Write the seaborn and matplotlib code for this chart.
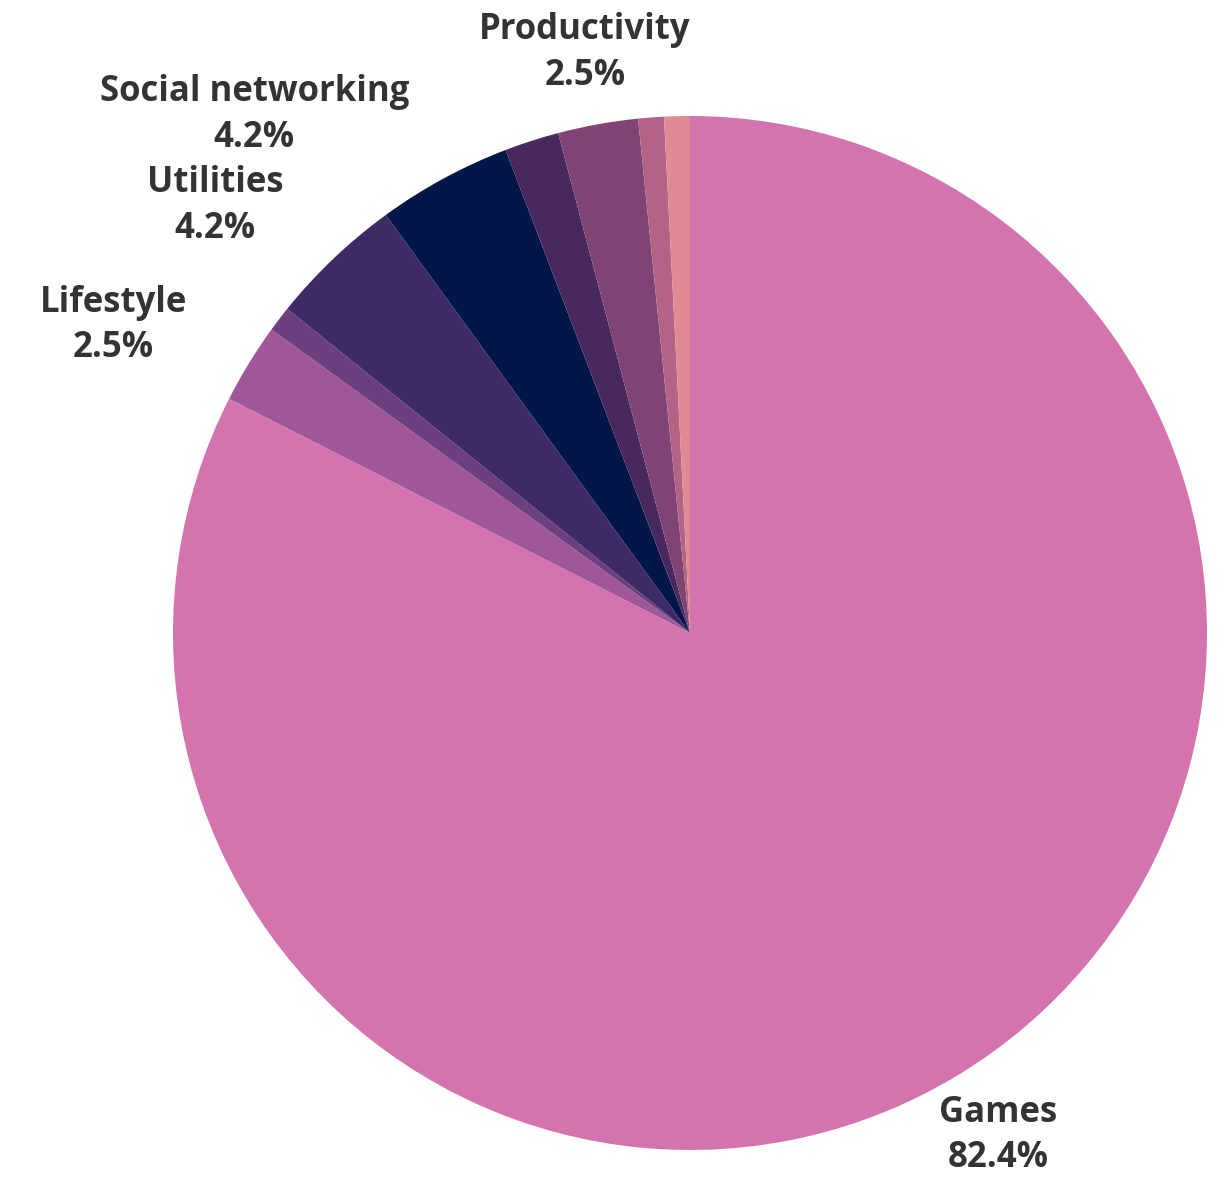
import matplotlib
matplotlib.use("Agg")
import matplotlib.pyplot as plt
import seaborn as sns
import numpy as np

categories = ["Games", "Lifestyle", "Entertainment", "Utilities", "Social networking",
              "Education", "Productivity", "Music", "Other"]
shares = [82.4, 2.5, 0.8, 4.2, 4.2, 1.7, 2.5, 0.8, 0.8]
colors = ["#d474ae", "#a0579a", "#6c3f80", "#3e2a64", "#001648",
          "#48285e", "#7f4474", "#b36486", "#e08a94"]

sns.set_theme(style="white")
plt.rcParams["font.family"] = ["Open Sans", "DejaVu Sans"]

fig = plt.figure(figsize=(12.19, 11.78), dpi=100)
ax = fig.add_axes([0, 0, 1, 1])

labels = [f"{c}\n{v:.1f}%" if v >= 2.0 else "" for c, v in zip(categories, shares)]

wedges, texts = ax.pie(shares, labels=labels, colors=colors, startangle=90,
                       counterclock=False, labeldistance=1.14,
                       wedgeprops=dict(linewidth=0),
                       textprops=dict(fontsize=25, fontweight="bold", color="#333333",
                                      linespacing=1.35, multialignment="center"))
for t in texts:
    x, y = t.get_position()
    if x < -0.3:
        t.set_ha("right")
    else:
        t.set_ha("center")
    t.set_va("center")

ax.set_aspect("auto")
ax.set_xlim(-690 / 517, (1219 - 690) / 517)
ax.set_ylim(-(1178 - 633) / 517, 633 / 517)
ax.axis("off")

fig.savefig("out.png", dpi=100)
